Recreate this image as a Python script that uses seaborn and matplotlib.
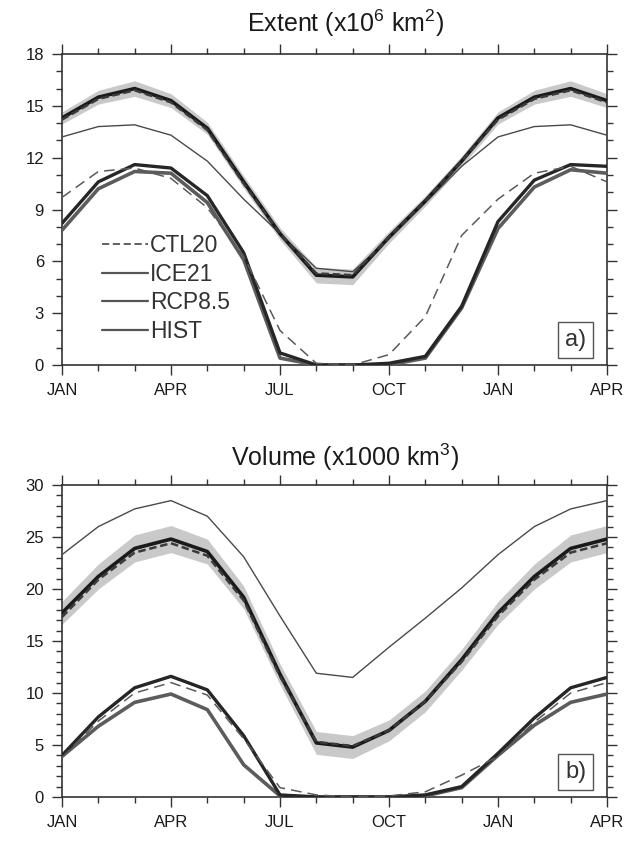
import numpy as np
import pandas as pd
import matplotlib
matplotlib.use("Agg")
import matplotlib.pyplot as plt
from matplotlib.lines import Line2D
from matplotlib.ticker import MultipleLocator
import seaborn as sns

# month axis: JAN .. DEC, JAN .. APR
months = list(range(16))
month_names = ['JAN', 'FEB', 'MAR', 'APR', 'MAY', 'JUN', 'JUL', 'AUG',
               'SEP', 'OCT', 'NOV', 'DEC', 'JAN', 'FEB', 'MAR', 'APR']

# a) extent (x10^6 km^2)
hist_ext = [14.3, 15.5, 16.0, 15.3, 13.7, 10.6, 7.6, 5.2, 5.1, 7.4, 9.5, 11.8, 14.3, 15.5, 16.0, 15.3]
ctl20_ext = [14.2, 15.4, 15.9, 15.2, 13.6, 10.5, 7.6, 5.3, 5.2, 7.4, 9.5, 11.8, 14.2, 15.4, 15.9, 15.2]
rcp_mid_ext = [13.2, 13.8, 13.9, 13.3, 11.8, 9.6, 7.6, 5.6, 5.4, 7.3, 9.4, 11.5, 13.2, 13.8, 13.9, 13.3]
ice21_ext = [8.2, 10.6, 11.6, 11.4, 9.8, 6.5, 0.7, 0.0, 0.0, 0.1, 0.5, 3.4, 8.3, 10.7, 11.6, 11.5]
rcp85_ext = [7.8, 10.2, 11.2, 11.1, 9.4, 6.1, 0.4, 0.0, 0.0, 0.0, 0.4, 3.3, 7.9, 10.3, 11.3, 11.1]
ctl20_low_ext = [9.7, 11.2, 11.4, 10.8, 9.1, 6.3, 2.0, 0.1, 0.0, 0.6, 2.8, 7.5, 9.6, 11.1, 11.5, 10.6]
hist_ext_spread = [0.35, 0.4, 0.45, 0.4, 0.35, 0.35, 0.35, 0.45, 0.45, 0.35, 0.3, 0.3, 0.35, 0.4, 0.45, 0.4]

# b) volume (x1000 km^3)
hist_vol = [17.7, 21.2, 23.9, 24.8, 23.6, 19.2, 11.8, 5.2, 4.8, 6.4, 9.2, 13.2, 17.7, 21.2, 23.9, 24.8]
ctl20_vol = [17.3, 20.9, 23.5, 24.4, 23.2, 18.9, 11.6, 5.3, 4.9, 6.4, 9.2, 13.0, 17.4, 20.9, 23.5, 24.4]
rcp_mid_vol = [23.3, 26.0, 27.7, 28.5, 27.0, 23.1, 17.4, 11.9, 11.5, 14.4, 17.2, 20.1, 23.3, 26.0, 27.7, 28.5]
ice21_vol = [4.0, 7.7, 10.5, 11.6, 10.3, 5.9, 0.2, 0.0, 0.0, 0.0, 0.2, 1.0, 4.2, 7.6, 10.5, 11.5]
rcp85_vol = [3.9, 6.8, 9.1, 9.9, 8.4, 3.1, 0.1, 0.0, 0.0, 0.0, 0.1, 0.9, 4.0, 6.9, 9.1, 9.9]
ctl20_low_vol = [3.8, 7.3, 10.0, 11.0, 9.8, 5.6, 0.9, 0.2, 0.0, 0.1, 0.5, 2.1, 3.9, 7.2, 10.0, 11.0]
hist_vol_spread = [1.1, 1.2, 1.3, 1.3, 1.2, 1.1, 1.0, 1.1, 1.1, 1.0, 1.0, 1.0, 1.1, 1.2, 1.3, 1.3]

legend_labels = ['CTL20', 'ICE21', 'RCP8.5', 'HIST']

sns.set_style("ticks")
plt.rcParams['font.family'] = ['Liberation Sans', 'DejaVu Sans']
plt.rcParams['mathtext.fontset'] = 'custom'
plt.rcParams['mathtext.rm'] = 'Liberation Sans'
plt.rcParams['mathtext.it'] = 'Liberation Sans:italic'

fig = plt.figure(figsize=(6.27, 8.42), dpi=100)
W, H = 627, 842
ax_a = fig.add_axes([62 / W, 1 - 365 / H, 545 / W, 311 / H])
ax_b = fig.add_axes([62 / W, 1 - 797 / H, 545 / W, 312 / H])


def draw_panel(ax, hist, spread, ctl20, rcp_mid, ice21, rcp85, ctl20_low):
    df = pd.DataFrame({'month': months, 'hist': hist, 'ctl20': ctl20, 'rcp_mid': rcp_mid,
                       'ice21': ice21, 'rcp85': rcp85, 'ctl20_low': ctl20_low})
    lo = np.array(hist) - np.array(spread)
    hi = np.array(hist) + np.array(spread)
    ax.fill_between(df['month'], lo, hi, color='#c9c9c9', lw=0, zorder=1)
    sns.lineplot(data=df, x='month', y='rcp_mid', ax=ax, color='#4a4a4a', lw=1.0, zorder=3)
    sns.lineplot(data=df, x='month', y='rcp85', ax=ax, color='#5c5c5c', lw=2.6, zorder=3)
    sns.lineplot(data=df, x='month', y='ice21', ax=ax, color='#262626', lw=2.4, zorder=4)
    sns.lineplot(data=df, x='month', y='ctl20_low', ax=ax, color='#5a5a5a', lw=1.1,
                 dashes=False, zorder=4).lines[-1].set_dashes([7, 4])
    sns.lineplot(data=df, x='month', y='hist', ax=ax, color='#1a1a1a', lw=2.6, zorder=5)
    sns.lineplot(data=df, x='month', y='ctl20', ax=ax, color='#3a3a3a', lw=1.8,
                 dashes=False, zorder=6).lines[-1].set_dashes([3, 1.5])

    ax.set_xlim(0, 15)
    ax.xaxis.set_major_locator(MultipleLocator(3))
    ax.xaxis.set_minor_locator(MultipleLocator(1))
    ax.set_xticks(months[::3])
    ax.set_xticklabels(month_names[::3])
    ax.set_xlabel('')
    ax.set_ylabel('')
    ax.tick_params(which='both', direction='out', top=True, right=True,
                   color='#333333', width=1.0, labelsize=12, labelcolor='#1a1a1a')
    ax.tick_params(which='major', length=7, pad=6)
    ax.tick_params(which='minor', length=4.5)
    for s in ax.spines.values():
        s.set_visible(True)
        s.set_linewidth(1.2)
        s.set_color('#333333')


draw_panel(ax_a, hist_ext, hist_ext_spread, ctl20_ext, rcp_mid_ext, ice21_ext, rcp85_ext, ctl20_low_ext)
ax_a.set_ylim(0, 18)
ax_a.yaxis.set_major_locator(MultipleLocator(3))
ax_a.yaxis.set_minor_locator(MultipleLocator(1))
ax_a.set_title('Extent (x10$^6$ km$^2$)', fontsize=18, pad=16, color='#1a1a1a', x=0.52)

draw_panel(ax_b, hist_vol, hist_vol_spread, ctl20_vol, rcp_mid_vol, ice21_vol, rcp85_vol, ctl20_low_vol)
ax_b.set_ylim(0, 30)
ax_b.yaxis.set_major_locator(MultipleLocator(5))
ax_b.yaxis.set_minor_locator(MultipleLocator(1))
ax_b.set_title('Volume (x1000 km$^3$)', fontsize=18, pad=14, color='#1a1a1a', x=0.52)

# legend
handles = [Line2D([], [], color='#555555', lw=1.3, dashes=[4, 2]),
           Line2D([], [], color='#555555', lw=1.6),
           Line2D([], [], color='#555555', lw=1.6),
           Line2D([], [], color='#555555', lw=1.6)]
leg = ax_a.legend(handles, legend_labels, loc='upper left', bbox_to_anchor=(0.073, 0.42),
                  frameon=False, borderpad=0, borderaxespad=0, handlelength=2.0,
                  handletextpad=0.1, labelspacing=0.24, fontsize=16.5)
for t in leg.get_texts():
    t.set_color('#333333')

# panel tags
for ax, tag in [(ax_a, 'a)'), (ax_b, 'b)')]:
    ax.text(0.962, 0.045, tag, transform=ax.transAxes, ha='right', va='bottom',
            fontsize=17, color='#333333', zorder=10,
            bbox=dict(boxstyle='square,pad=0.3', fc='white', ec='#555555', lw=1.0))

fig.savefig('out.png', dpi=100)
